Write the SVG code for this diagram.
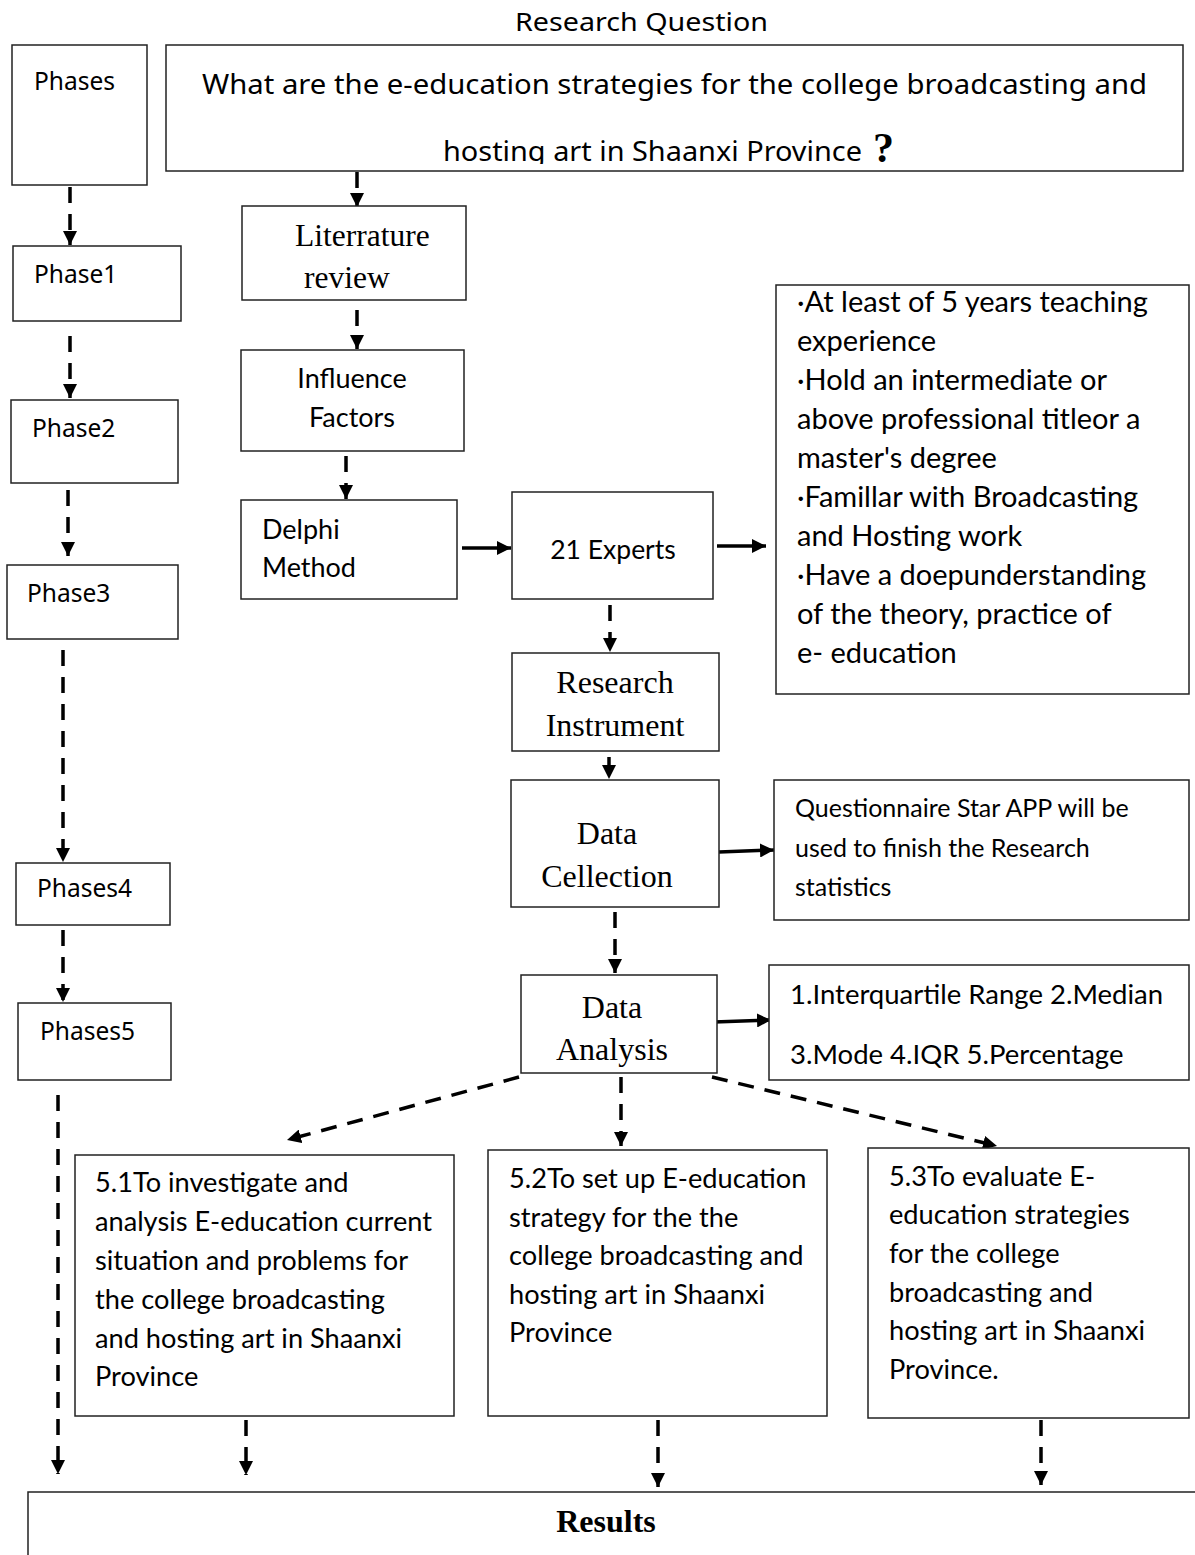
<svg xmlns="http://www.w3.org/2000/svg" width="1195" height="1555" viewBox="0 0 1195 1555">
<style>
.bg{fill:#fff}
.box{fill:#fff;stroke:#222;stroke-width:1.5}
.dash{fill:none;stroke:#000;stroke-width:3.5;stroke-dasharray:16 11}
.solid{fill:none;stroke:#000;stroke-width:3.5}
.q{font-family:"Noto Sans","Open Sans",sans-serif;fill:#000}
.c{font-family:Lato,"Open Sans",sans-serif;fill:#000}
.s{font-family:"Liberation Serif","Times New Roman",serif;fill:#000}
</style>
<defs>
<marker id="ah" markerUnits="userSpaceOnUse" markerWidth="14" markerHeight="14" refX="14" refY="7" orient="auto">
<path d="M0,0 L14,7 L0,14 Z" fill="#000"/>
</marker>
<clipPath id="qclip"><rect x="166" y="100" width="1017" height="64"/></clipPath>
</defs>
<rect class="bg" x="0" y="0" width="1195" height="1555"/>

<g id="connectors">
<line class="dash" x1="70" y1="187" x2="70" y2="245" marker-end="url(#ah)"/>
<line class="dash" x1="70" y1="336" x2="70" y2="398" marker-end="url(#ah)"/>
<line class="dash" x1="68" y1="490" x2="68" y2="556" marker-end="url(#ah)"/>
<line class="dash" x1="63" y1="650" x2="63" y2="862" marker-end="url(#ah)"/>
<line class="dash" x1="63" y1="930" x2="63" y2="1002" marker-end="url(#ah)"/>
<line class="dash" x1="58" y1="1095" x2="58" y2="1474" marker-end="url(#ah)"/>
<line class="dash" x1="357" y1="172" x2="357" y2="207" marker-end="url(#ah)"/>
<line class="dash" x1="357" y1="310" x2="357" y2="349" marker-end="url(#ah)"/>
<line class="dash" x1="346" y1="456" x2="346" y2="499" marker-end="url(#ah)"/>
<line class="solid" x1="462" y1="548" x2="511" y2="548" marker-end="url(#ah)"/>
<line class="solid" x1="717" y1="546" x2="766" y2="546" marker-end="url(#ah)"/>
<line class="dash" x1="610" y1="605" x2="610" y2="652" marker-end="url(#ah)"/>
<line class="dash" x1="609" y1="757" x2="609" y2="779" marker-end="url(#ah)"/>
<line class="solid" x1="719" y1="852" x2="774" y2="850" marker-end="url(#ah)"/>
<line class="dash" x1="615" y1="912" x2="615" y2="973" marker-end="url(#ah)"/>
<line class="solid" x1="714" y1="1022" x2="771" y2="1020" marker-end="url(#ah)"/>
<line class="dash" x1="519" y1="1077" x2="287" y2="1140" marker-end="url(#ah)"/>
<line class="dash" x1="621" y1="1077" x2="621" y2="1146" marker-end="url(#ah)"/>
<line class="dash" x1="712" y1="1077" x2="997" y2="1146" marker-end="url(#ah)"/>
<line class="dash" x1="246" y1="1420" x2="246" y2="1475" marker-end="url(#ah)"/>
<line class="dash" x1="658" y1="1420" x2="658" y2="1487" marker-end="url(#ah)"/>
<line class="dash" x1="1041" y1="1420" x2="1041" y2="1485" marker-end="url(#ah)"/>
</g>

<g id="title">
<text class="q" x="515" y="31" font-size="25" textLength="253" lengthAdjust="spacingAndGlyphs">Research Question</text>
</g>

<g id="question">
<rect class="box" x="166" y="45" width="1017" height="126"/>
<text class="q" x="202" y="94" font-size="28" textLength="945" lengthAdjust="spacingAndGlyphs">What are the e-education strategies for the college broadcasting and</text>
<g clip-path="url(#qclip)">
<text class="q" x="443" y="161" font-size="28" textLength="419" lengthAdjust="spacingAndGlyphs">hosting art in Shaanxi Province</text>
</g>
<text class="s" x="873" y="162" font-size="42" font-weight="bold">?</text>
</g>

<g id="phases">
<rect class="box" x="12" y="45" width="135" height="140"/>
<text class="q" x="34" y="90" font-size="24.5">Phases</text>
</g>
<g id="phase1">
<rect class="box" x="13" y="246" width="168" height="75"/>
<text class="q" x="34" y="283" font-size="24.5">Phase1</text>
</g>
<g id="phase2">
<rect class="box" x="11" y="400" width="167" height="83"/>
<text class="q" x="32" y="437" font-size="24.5">Phase2</text>
</g>
<g id="phase3">
<rect class="box" x="7" y="565" width="171" height="74"/>
<text class="q" x="27" y="602" font-size="24.5">Phase3</text>
</g>
<g id="phases4">
<rect class="box" x="16" y="863" width="154" height="62"/>
<text class="q" x="37" y="897" font-size="24.5">Phases4</text>
</g>
<g id="phases5">
<rect class="box" x="18" y="1003" width="153" height="77"/>
<text class="q" x="40" y="1040" font-size="24.5">Phases5</text>
</g>

<g id="literature">
<rect class="box" x="242" y="206" width="224" height="94"/>
<text class="s" x="295" y="246" font-size="31.5">Literrature</text>
<text class="s" x="304" y="288" font-size="31.5">review</text>
</g>

<g id="influence">
<rect class="box" x="241" y="350" width="223" height="101"/>
<text class="c" x="352" y="388" font-size="27" text-anchor="middle">Influence</text>
<text class="c" x="352" y="427" font-size="27" text-anchor="middle">Factors</text>
</g>

<g id="delphi">
<rect class="box" x="241" y="500" width="216" height="99"/>
<text class="c" x="262" y="539" font-size="27">Delphi</text>
<text class="c" x="262" y="577" font-size="27">Method</text>
</g>

<g id="experts">
<rect class="box" x="512" y="492" width="201" height="107"/>
<text class="c" x="613" y="559" font-size="26.5" text-anchor="middle">21 Experts</text>
</g>

<g id="criteria">
<rect class="box" x="776" y="285" width="413" height="409"/>
<text class="c" font-size="29">
<tspan x="797" y="312">·At least of 5 years teaching</tspan>
<tspan x="797" y="351">experience</tspan>
<tspan x="797" y="390">·Hold an intermediate or</tspan>
<tspan x="797" y="429">above professional titleor a</tspan>
<tspan x="797" y="468">master's degree</tspan>
<tspan x="797" y="507">·Famillar with Broadcasting</tspan>
<tspan x="797" y="546">and Hosting work</tspan>
<tspan x="797" y="585">·Have a doepunderstanding</tspan>
<tspan x="797" y="624">of the theory, practice of</tspan>
<tspan x="797" y="663">e- education</tspan>
</text>
</g>

<g id="instrument">
<rect class="box" x="512" y="653" width="207" height="98"/>
<text class="s" x="615" y="693" font-size="32" text-anchor="middle">Research</text>
<text class="s" x="615" y="736" font-size="32" text-anchor="middle">Instrument</text>
</g>

<g id="collection">
<rect class="box" x="511" y="780" width="208" height="127"/>
<text class="s" x="607" y="844" font-size="32" text-anchor="middle">Data</text>
<text class="s" x="607" y="887" font-size="32" text-anchor="middle">Cellection</text>
</g>

<g id="questionnaire">
<rect class="box" x="774" y="780" width="415" height="140"/>
<text class="c" font-size="25">
<tspan x="795" y="817">Questionnaire Star APP will be</tspan>
<tspan x="795" y="857">used to finish the Research</tspan>
<tspan x="795" y="896">statistics</tspan>
</text>
</g>

<g id="analysis">
<rect class="box" x="521" y="975" width="196" height="98"/>
<text class="s" x="612" y="1018" font-size="32" text-anchor="middle">Data</text>
<text class="s" x="612" y="1060" font-size="32" text-anchor="middle">Analysis</text>
</g>

<g id="stats">
<rect class="box" x="769" y="965" width="420" height="115"/>
<text class="c" font-size="27.5">
<tspan x="790" y="1004">1.Interquartile Range 2.Median</tspan>
<tspan x="790" y="1064">3.Mode 4.IQR 5.Percentage</tspan>
</text>
</g>

<g id="obj51">
<rect class="box" x="75" y="1155" width="379" height="261"/>
<text class="c" font-size="27.2">
<tspan x="95" y="1192">5.1To investigate and</tspan>
<tspan x="95" y="1231">analysis E-education current</tspan>
<tspan x="95" y="1270">situation and problems for</tspan>
<tspan x="95" y="1309">the college broadcasting</tspan>
<tspan x="95" y="1348">and hosting art in Shaanxi</tspan>
<tspan x="95" y="1386">Province</tspan>
</text>
</g>

<g id="obj52">
<rect class="box" x="488" y="1150" width="339" height="266"/>
<text class="c" font-size="27.2">
<tspan x="509" y="1188">5.2To set up E-education</tspan>
<tspan x="509" y="1227">strategy for the  the</tspan>
<tspan x="509" y="1265">college broadcasting and</tspan>
<tspan x="509" y="1304">hosting art in Shaanxi</tspan>
<tspan x="509" y="1342">Province</tspan>
</text>
</g>

<g id="obj53">
<rect class="box" x="868" y="1148" width="321" height="270"/>
<text class="c" font-size="27.2">
<tspan x="889" y="1186">5.3To evaluate E-</tspan>
<tspan x="889" y="1224">education strategies</tspan>
<tspan x="889" y="1263">for the college</tspan>
<tspan x="889" y="1302">broadcasting and</tspan>
<tspan x="889" y="1340">hosting art in Shaanxi</tspan>
<tspan x="889" y="1379">Province.</tspan>
</text>
</g>

<g id="results">
<rect class="box" x="28" y="1492" width="1200" height="100"/>
<text class="s" x="606" y="1532" font-size="32" font-weight="bold" text-anchor="middle">Results</text>
</g>
</svg>
